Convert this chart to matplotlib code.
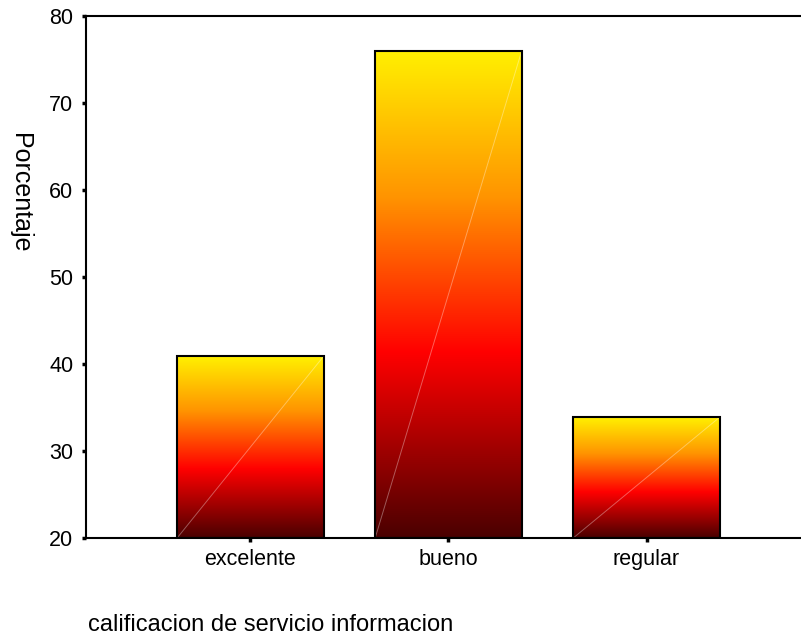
import numpy as np
import matplotlib.pyplot as plt
from matplotlib.colors import LinearSegmentedColormap
from matplotlib.patches import Rectangle

plt.rcParams['font.family'] = ['Liberation Sans', 'DejaVu Sans']

categories = ['excelente', 'bueno', 'regular']
values = [40.9, 76.0, 33.9]
y_ticks = [20, 30, 40, 50, 60, 70, 80]

cmap = LinearSegmentedColormap.from_list(
    'fire', [(0.0, '#4a0000'), (0.38, '#ff0000'), (0.7, '#ff9400'), (1.0, '#fff000')])

fig = plt.figure(figsize=(8.01, 6.36), dpi=100)
ax = fig.add_axes([86 / 801, 1 - 538 / 636, 1 - 86 / 801, (538 - 16) / 636])

x = np.arange(len(categories))
width = 0.74
bars = ax.bar(x, np.array(values) - 20, width, bottom=20, color='none',
              edgecolor='black', linewidth=1.5, zorder=3)

grad = np.linspace(0, 1, 256).reshape(-1, 1)
for b in bars:
    x0, y0 = b.get_x(), b.get_y()
    w, h = b.get_width(), b.get_height()
    im = ax.imshow(grad, cmap=cmap, origin='lower', aspect='auto',
                   extent=[x0, x0 + w, y0, y0 + h], zorder=2)
    clip = Rectangle((x0, y0), w, h, transform=ax.transData)
    im.set_clip_path(clip)
    # faint diagonal highlight
    ax.plot([x0, x0 + w], [y0, y0 + h], color='white', alpha=0.35,
            linewidth=0.7, zorder=2.5)

ax.set_xlim(-0.83, 2.78)
ax.set_ylim(20, 80)
ax.set_yticks(y_ticks)
ax.set_xticks(x)
ax.set_xticklabels(categories)

ax.spines['right'].set_visible(False)
for s in ['left', 'bottom', 'top']:
    ax.spines[s].set_linewidth(1.5)
ax.tick_params(axis='both', direction='out', length=3, width=2.5,
               labelsize=15.5)
ax.tick_params(axis='y', pad=6)
ax.tick_params(axis='x', pad=5)

fig.text(20 / 801, 1 - 193 / 636, 'Porcentaje', rotation=-90, fontsize=18,
         ha='center', va='center')
fig.text(88 / 801, 1 - 625 / 636, 'calificacion de servicio informacion',
         fontsize=17, ha='left', va='center')

fig.savefig('out.png', dpi=100)
